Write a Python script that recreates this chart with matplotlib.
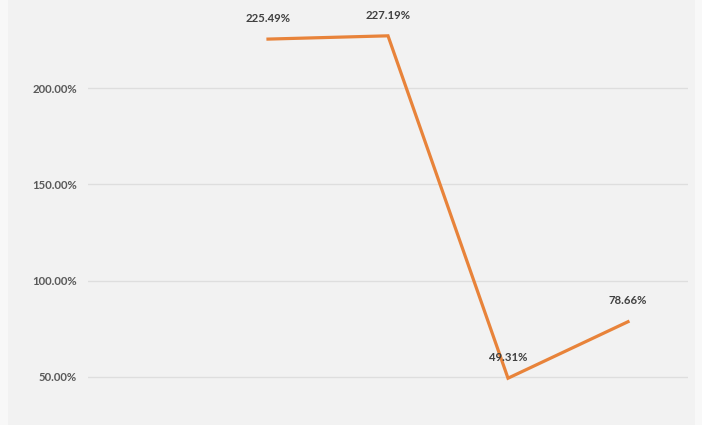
import matplotlib
matplotlib.use("Agg")
import matplotlib.pyplot as plt
from matplotlib.patches import Rectangle
import numpy as np

categories = ["", "B", "C", "D", "E"]
values = [np.nan, 225.49, 227.19, 49.31, 78.66]
ytick_values = [50, 100, 150, 200]
ytick_labels = ["50.00%", "100.00%", "150.00%", "200.00%"]

plt.rcParams['font.family'] = ['Lato', 'DejaVu Sans']

W, H = 702, 425
fig = plt.figure(figsize=(W / 100, H / 100), dpi=100)
fig.patch.set_facecolor("#f8f8f8")
fig.patches.append(Rectangle((8 / W, 0), (695 - 8) / W, 1, transform=fig.transFigure,
                             facecolor="#f2f2f2", edgecolor="none", zorder=-5))

ax = fig.add_axes([88 / W, 0, 600 / W, 1])
ax.set_zorder(5)
ax.set_facecolor("none")
x = np.arange(len(categories))
ax.set_xlim(-0.5, len(categories) - 0.5)
ax.set_ylim(25.0, 245.8)

for yv in ytick_values:
    ax.axhline(yv, color="#dedede", lw=1.0, zorder=1)

ax.plot(x, values, color="#E8833A", lw=2.3, zorder=3, solid_joinstyle="miter")

for xi, v in zip(x, values):
    if np.isnan(v):
        continue
    ax.annotate(f"{v:.2f}%", (xi, v), xytext=(0, 11), textcoords="offset points",
                ha="center", va="bottom", fontsize=8.2, fontweight="bold", color="#404040", zorder=4)

ax.set_yticks(ytick_values)
ax.set_yticklabels(ytick_labels)
ax.tick_params(axis="y", length=0, pad=8, labelsize=8.2, labelcolor="#595959")
for lab in ax.get_yticklabels():
    lab.set_fontweight("bold")
ax.set_xticks([])
for s in ax.spines.values():
    s.set_visible(False)

fig.savefig("out.png", dpi=100, facecolor=fig.get_facecolor())
